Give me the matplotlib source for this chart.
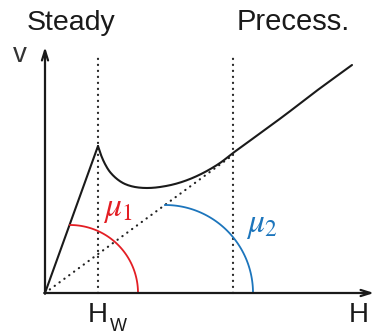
import matplotlib
matplotlib.use('Agg')
import matplotlib.pyplot as plt
import numpy as np

plt.rcParams['font.family'] = ['Liberation Sans', 'DejaVu Sans']
plt.rcParams['mathtext.fontset'] = 'stix'

# schematic values (arbitrary units, origin at the axes corner)
H_W = 53
H_2 = 188
steady_H = [0, 53]
steady_v = [0, 147]
precess_H = [53, 56, 60, 65, 72, 80, 90, 102, 115, 130, 145, 160, 175, 188, 210, 240, 270, 307]
precess_v = [147, 138, 129, 121, 114, 109, 106, 105, 106, 109, 114, 121, 130, 140, 156, 178, 201, 228]
mu2_H = [0, 188]
mu2_v = [0, 138]
arc1_center, arc1_radius = 25, 68
arc2_center, arc2_radius = 120, 88
vline_top = 240
H_max, v_max = 329, 246


def smooth(xs, ys, n=12):
    # catmull-rom through the read points
    p = np.column_stack([xs, ys]).astype(float)
    p = np.vstack([p[0], p, p[-1]])
    out = []
    for i in range(1, len(p) - 2):
        p0, p1, p2, p3 = p[i - 1], p[i], p[i + 1], p[i + 2]
        for s in np.linspace(0, 1, n, endpoint=False):
            out.append(0.5 * (2 * p1 + (-p0 + p2) * s + (2 * p0 - 5 * p1 + 4 * p2 - p3) * s ** 2
                              + (-p0 + 3 * p1 - 3 * p2 + p3) * s ** 3))
    out.append(p[-2])
    out = np.array(out)
    return out[:, 0], out[:, 1]


fig = plt.figure(figsize=(3.74, 3.35), dpi=100)
ax = fig.add_axes([0, 0, 1, 1])
ax.set_xlim(-45, 329)
ax.set_ylim(-42, 293)
ax.axis('off')

dots = dict(color='#222222', lw=1.6, linestyle=(0, (0.1, 2.6)), dash_capstyle='round')
ax.plot([H_W, H_W], [0, vline_top], **dots)
ax.plot([H_2, H_2], [0, vline_top], **dots)
ax.plot(mu2_H, mu2_v, **dots)

ax.plot(steady_H, steady_v, color='#1a1a1a', lw=1.5, solid_capstyle='round')
cx, cy = smooth(precess_H, precess_v)
ax.plot(cx, cy, color='#1a1a1a', lw=1.5, solid_capstyle='round')

t = np.linspace(0, np.pi / 2, 100)
ax.plot(arc1_center + arc1_radius * np.cos(t), arc1_radius * np.sin(t), color='#e31e24', lw=1.3)
ax.plot(arc2_center + arc2_radius * np.cos(t), arc2_radius * np.sin(t), color='#1c75bc', lw=1.3)

arrow = dict(arrowstyle='->,head_length=0.7,head_width=0.22', color='#1a1a1a', lw=1.6,
             shrinkA=0, shrinkB=0)
ax.annotate('', xy=(H_max, 0), xytext=(-0.8, 0), arrowprops=arrow)
ax.annotate('', xy=(0, v_max), xytext=(0, -0.8), arrowprops=arrow)

ax.text(-18, 263, 'Steady', fontsize=20.5, color='#1a1a1a', va='baseline')
ax.text(192, 263, 'Precess.', fontsize=21, color='#1a1a1a', va='baseline')
ax.text(-32, 231, 'v', fontsize=20, color='#333333', va='baseline')
ax.text(43, -29, 'H', fontsize=20, color='#1a1a1a', va='baseline')
ax.text(65, -38, 'W', fontsize=13, color='#1a1a1a', va='baseline')
ax.text(304, -29, 'H', fontsize=20, color='#1a1a1a', va='baseline')
ax.text(58, 77, r'$\mu_1$', fontsize=24, color='#e31e24', va='baseline')
ax.text(201, 61, r'$\mu_2$', fontsize=24, color='#1c75bc', va='baseline')

fig.savefig('out.png', dpi=100)
